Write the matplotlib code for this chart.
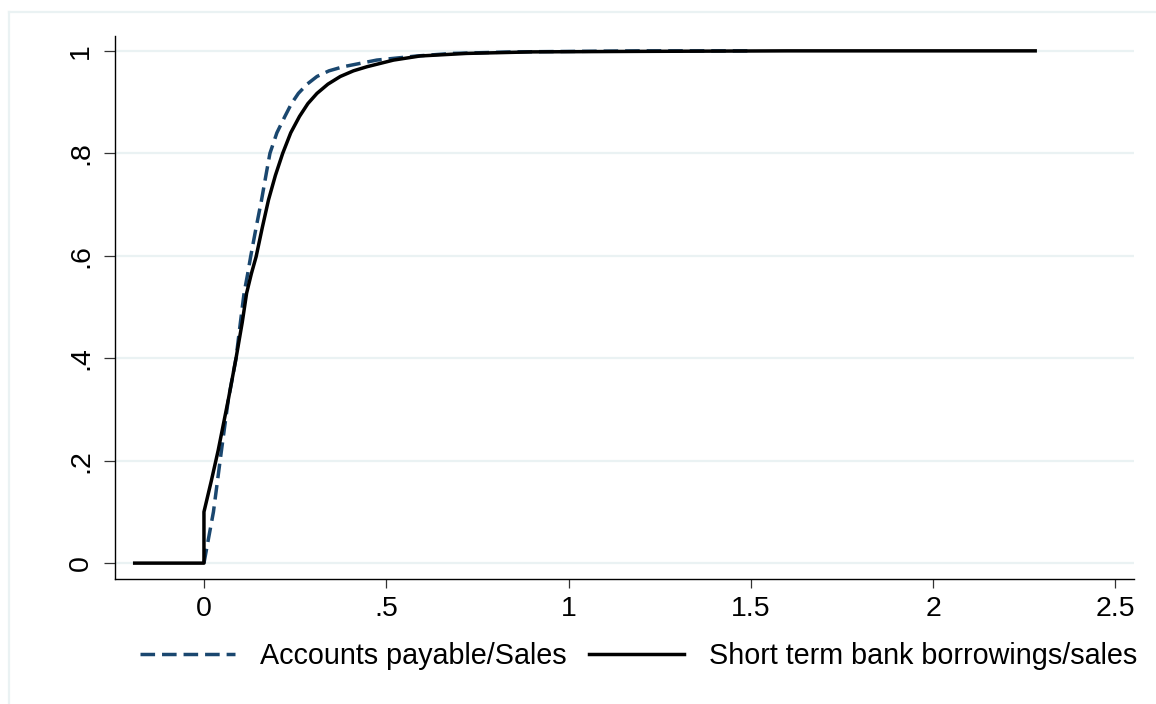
import matplotlib
matplotlib.use("Agg")
import matplotlib.pyplot as plt
from matplotlib.lines import Line2D

# ---- data ----
stb_x = [-0.19, 0.0, 0.0, 0.020, 0.039, 0.067, 0.088, 0.105, 0.117, 0.130, 0.143, 0.160, 0.177,
         0.196, 0.216, 0.238, 0.262, 0.285, 0.31, 0.34, 0.374, 0.41, 0.447, 0.52,
         0.593, 0.72, 0.9, 1.2, 1.6, 2.0, 2.28]
stb_y = [0.0, 0.0, 0.10, 0.16, 0.22, 0.32, 0.40, 0.47, 0.527, 0.565, 0.598, 0.655, 0.709,
         0.757, 0.80, 0.840, 0.872, 0.897, 0.917, 0.935, 0.95, 0.961, 0.969, 0.982,
         0.99, 0.995, 0.998, 0.999, 1.0, 1.0, 1.0]

ap_x = [0.0, 0.026, 0.048, 0.067, 0.088, 0.100, 0.110, 0.120, 0.128, 0.143, 0.158, 0.170, 0.181,
        0.200, 0.222, 0.240, 0.259, 0.283, 0.31, 0.343, 0.382, 0.474, 0.584, 0.68,
        0.85, 1.2, 1.5]
ap_y = [0.0, 0.10, 0.22, 0.32, 0.40, 0.47, 0.527, 0.565, 0.598, 0.655, 0.709, 0.757, 0.80,
        0.840, 0.872, 0.897, 0.917, 0.935, 0.95, 0.961, 0.969, 0.982, 0.99, 0.995,
        0.998, 1.0, 1.0]

x_ticks = [0, 0.5, 1, 1.5, 2, 2.5]
x_ticklabels = ["0", ".5", "1", "1.5", "2", "2.5"]
y_ticks = [0, 0.2, 0.4, 0.6, 0.8, 1.0]
y_ticklabels = ["0", ".2", ".4", ".6", ".8", "1"]
series_labels = ["Accounts payable/Sales", "Short term bank borrowings/sales"]

# ---- style ----
plt.rcParams['font.family'] = ['Liberation Sans', 'DejaVu Sans']
W, H = 1156, 704
fig = plt.figure(figsize=(W / 100, H / 100), dpi=100)
fig.patch.set_facecolor("white")

grid_col = "#eaf2f3"
navy = "#1a476f"

# outer frame (light line at top & left, cropped at right/bottom)
fig.add_artist(Line2D([8.5 / W, 8.5 / W], [0, 1 - 11.5 / H], transform=fig.transFigure,
                      color=grid_col, lw=1.6))
fig.add_artist(Line2D([8.5 / W, 1], [1 - 11.5 / H, 1 - 11.5 / H], transform=fig.transFigure,
                      color=grid_col, lw=1.6))

ax = fig.add_axes([115 / W, 1 - 579 / H, (1134 - 115) / W, (579 - 36) / H])
ax.set_facecolor("white")

ax.set_xlim(-0.244, 2.551)
ax.set_ylim(-0.031, 1.029)

for yv in y_ticks:
    ax.axhline(yv, color=grid_col, lw=1.6, zorder=0)

ax.plot(ap_x, ap_y, color=navy, lw=2.5, linestyle=(0, (4.2, 2.0)),
        label=series_labels[0], zorder=2)
ax.plot(stb_x, stb_y, color="black", lw=2.5, label=series_labels[1], zorder=3,
        solid_joinstyle='round')

ax.spines['top'].set_visible(False)
ax.spines['right'].set_visible(False)
for s in ('left', 'bottom'):
    ax.spines[s].set_color("black")
    ax.spines[s].set_linewidth(1.0)

ax.set_xticks(x_ticks)
ax.set_xticklabels(x_ticklabels)
ax.set_yticks(y_ticks)
ax.set_yticklabels(y_ticklabels, rotation=90, va='center')
ax.tick_params(axis='x', length=6.5, width=0.9, color="#333333", pad=6, labelsize=20.5)
ax.tick_params(axis='y', length=8, width=0.9, color="#333333", pad=7, labelsize=20.5)

leg = fig.legend(loc='center', bbox_to_anchor=(0.5525, 1 - 656 / H), ncol=2,
                 frameon=False, fontsize=20.7, handlelength=3.3, handletextpad=0.9,
                 columnspacing=0.75)

fig.savefig("out.png", dpi=100, facecolor="white")
